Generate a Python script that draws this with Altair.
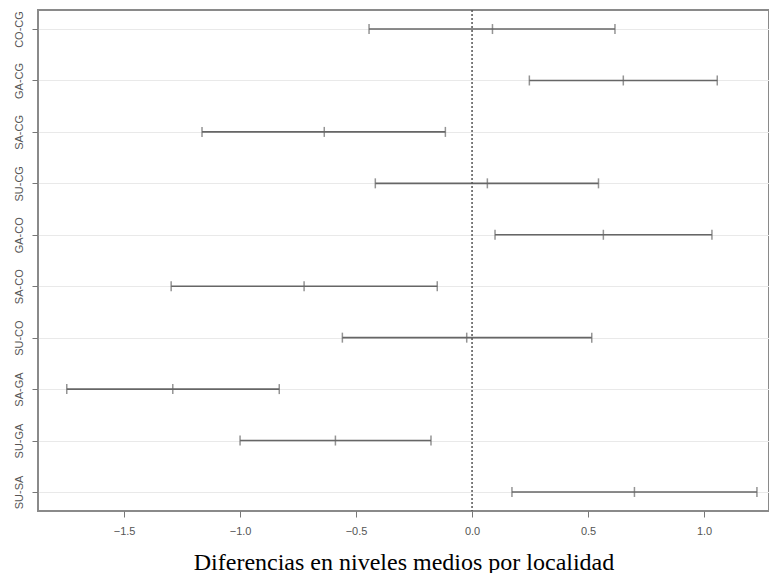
import altair as alt
import pandas as pd

comparisons = ["CO-CG", "GA-CG", "SA-CG", "SU-CG", "GA-CO", "SA-CO", "SU-CO", "SA-GA", "SU-GA", "SU-SA"]
diff = [0.088, 0.652, -0.637, 0.066, 0.566, -0.724, -0.023, -1.290, -0.589, 0.700]
lwr = [-0.444, 0.247, -1.164, -0.417, 0.099, -1.297, -0.559, -1.747, -1.000, 0.172]
upr = [0.616, 1.057, -0.115, 0.545, 1.034, -0.150, 0.516, -0.831, -0.177, 1.228]
x_ticks = [-1.5, -1.0, -0.5, 0.0, 0.5, 1.0]

df = pd.DataFrame({"comp": comparisons, "diff": diff, "lwr": lwr, "upr": upr})
zero_df = pd.DataFrame({"z": [0.0]})

xscale = alt.Scale(domain=[-1.871, 1.280], nice=False, zero=False)
yscale = alt.Scale(type="point", padding=0.37)

x_axis = alt.Axis(values=x_ticks, format=".1f", grid=False, domain=False,
                  tickColor="#777", tickSize=6, tickWidth=1,
                  labelColor="#555", labelFontSize=11, labelFont="Liberation Sans", labelPadding=8,
                  title="Diferencias en niveles medios por localidad",
                  titleFont="Liberation Serif", titleFontSize=24, titleFontWeight="normal",
                  titleColor="#000", titlePadding=14)
y_axis = alt.Axis(title=None, domain=False, grid=True, gridColor="#e9e9e9", gridWidth=1,
                  tickColor="#777", tickSize=6, tickWidth=1,
                  labelColor="#555", labelFontSize=11, labelFont="Liberation Sans",
                  labelAngle=270, labelAlign="center", labelBaseline="bottom", labelPadding=8)

base = alt.Chart(df)

rules = base.mark_rule(color="#666", strokeWidth=1.6).encode(
    x=alt.X("lwr:Q", scale=xscale, axis=x_axis),
    x2="upr:Q",
    y=alt.Y("comp:N", sort=comparisons, scale=yscale, axis=y_axis),
)

ticks_lwr = base.mark_tick(color="#666", thickness=1.5, size=10).encode(
    x="lwr:Q", y=alt.Y("comp:N", sort=comparisons))
ticks_mid = base.mark_tick(color="#666", thickness=1.5, size=10).encode(
    x="diff:Q", y=alt.Y("comp:N", sort=comparisons))
ticks_upr = base.mark_tick(color="#666", thickness=1.5, size=10).encode(
    x="upr:Q", y=alt.Y("comp:N", sort=comparisons))

zero = alt.Chart(zero_df).mark_rule(color="#555", strokeDash=[2, 2], strokeWidth=1.5).encode(
    x="z:Q")

chart = alt.layer(rules, zero, ticks_lwr, ticks_mid, ticks_upr).properties(
    width=731, height=501,
    background="white",
    autosize=alt.AutoSizeParams(type="none"),
    padding={"left": 30, "top": 2, "right": 0, "bottom": 64},
).configure_view(stroke="#8a8a8a", strokeWidth=2)

chart.save("out.html", embed_options={"renderer": "svg", "actions": False})
